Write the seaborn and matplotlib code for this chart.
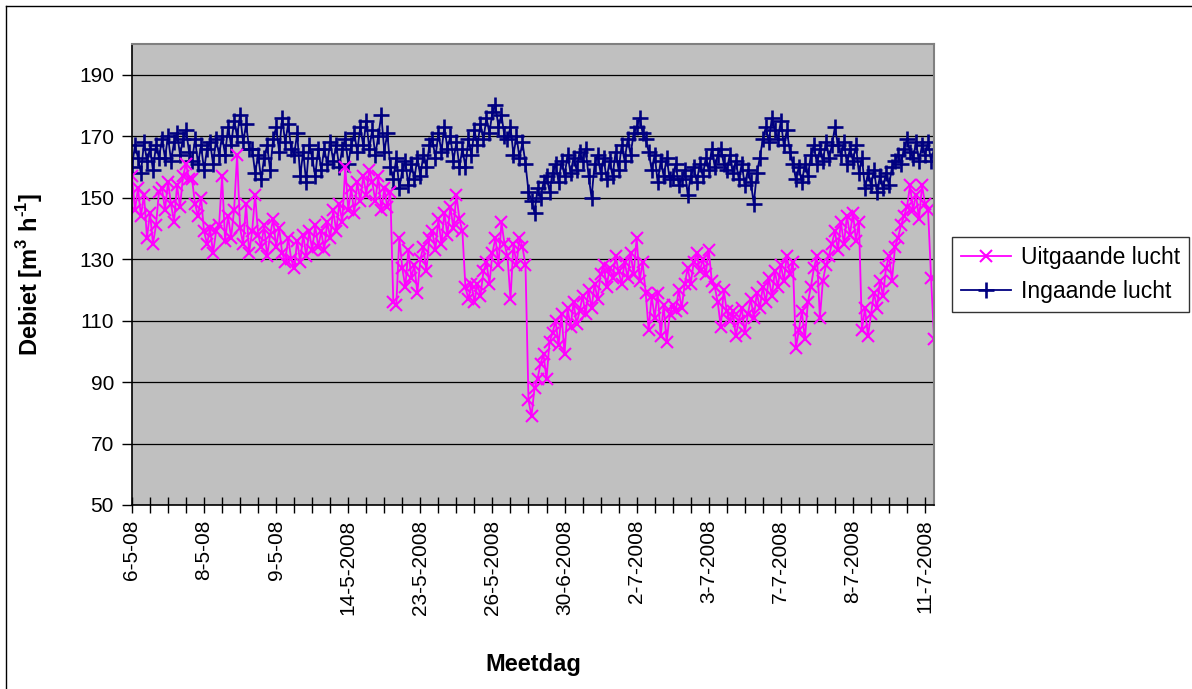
import numpy as np
import pandas as pd
import seaborn as sns
import matplotlib.pyplot as plt
from matplotlib.lines import Line2D

# Ingaande lucht (m3/h), 6 points per minor tick
ingaand = [
    160, 167, 163, 158, 168, 162, 166, 159, 167, 163,
    169, 163, 170, 162, 168, 171, 164, 169, 172, 165,
    162, 169, 161, 167, 159, 166, 168, 161, 169, 164,
    170, 164, 173, 167, 175, 170, 177, 168, 174, 166,
    166, 158, 164, 156, 163, 167, 159, 169, 173, 165,
    176, 168, 174, 166, 164, 171, 157, 165, 155, 167,
    163, 157, 166, 159, 166, 161, 168, 162, 167, 160,
    166, 169, 161, 167, 171, 165, 173, 167, 175, 166,
    172, 164, 170, 177, 165, 171, 160, 156, 163, 153,
    159, 162, 154, 161, 156, 163, 157, 164, 160, 167,
    169, 163, 171, 165, 173, 166, 170, 162, 168, 160,
    166, 160, 169, 164, 172, 167, 174, 169, 176, 171,
    178, 180, 173, 177, 170, 169, 173, 164, 170, 163,
    168, 161, 152, 149, 145, 153, 150, 155, 157, 152,
    158, 161, 155, 162, 157, 164, 158, 163, 159, 165,
    162, 166, 157, 150, 161, 164, 158, 163, 156, 162,
    157, 165, 159, 167, 162, 169, 164, 171, 173, 176,
    171, 169, 165, 159, 164, 155, 162, 157, 163, 156,
    157, 161, 154, 156, 159, 151, 157, 160, 155, 161,
    157, 163, 159, 166, 160, 164, 166, 161, 159, 164,
    158, 162, 156, 161, 154, 159, 155, 148, 158, 163,
    169, 173, 168, 176, 172, 169, 175, 167, 172, 165,
    161, 156, 160, 155, 161, 157, 164, 167, 161, 166,
    162, 168, 163, 167, 173, 167, 164, 168, 161, 166,
    162, 167, 158, 163, 153, 158, 154, 159, 152, 157,
    153, 158, 154, 160, 162, 164, 161, 166, 169, 165,
    163, 168, 162, 167, 164, 168, 162, 166,
]

# Uitgaande lucht (m3/h)
uitgaand = [
    157, 146, 153, 144, 151, 137, 145, 135, 141, 152,
    153, 146, 155, 148, 142, 154, 147, 157, 161, 156,
    156, 148, 144, 150, 139, 135, 140, 132, 139, 141,
    157, 136, 144, 137, 146, 164, 140, 135, 148, 132,
    139, 151, 138, 134, 141, 131, 138, 143, 134, 140,
    132, 129, 137, 130, 127, 136, 129, 138, 131, 139,
    133, 141, 134, 139, 133, 142, 137, 146, 139, 148,
    142, 160, 146, 153, 145, 155, 149, 157, 151, 159,
    155, 149, 157, 146, 153, 147, 152, 116, 115, 137,
    127, 121, 133, 124, 128, 119, 130, 134, 126, 137,
    139, 133, 143, 135, 145, 138, 147, 140, 151, 143,
    139, 121, 117, 122, 116, 122, 118, 126, 129, 122,
    132, 137, 128, 142, 135, 131, 117, 135, 128, 137,
    134, 128, 84, 79, 88, 91, 96, 99, 91, 103,
    106, 110, 102, 112, 99, 114, 108, 116, 109, 113,
    118, 112, 120, 114, 122, 117, 125, 128, 121, 127,
    124, 131, 126, 122, 129, 124, 132, 125, 137, 123,
    129, 119, 107, 118, 111, 119, 105, 115, 103, 112,
    115, 113, 120, 114, 122, 127, 122, 129, 132, 126,
    130, 125, 133, 123, 121, 116, 108, 120, 113, 110,
    113, 105, 110, 114, 106, 112, 117, 111, 119, 114,
    121, 116, 124, 118, 126, 121, 128, 123, 131, 125,
    129, 101, 107, 113, 104, 116, 121, 127, 131, 111,
    123, 128, 131, 135, 139, 133, 142, 135, 144, 138,
    145, 136, 142, 107, 114, 105, 112, 119, 114, 123,
    118, 127, 131, 123, 134, 137, 141, 144, 147, 154,
    146, 151, 143, 154, 148, 146, 124, 104,
]

dag_labels = ['6-5-08', '8-5-08', '9-5-08', '14-5-2008', '23-5-2008', '26-5-2008',
              '30-6-2008', '2-7-2008', '3-7-2008', '7-7-2008', '8-7-2008', '11-7-2008']

df = pd.DataFrame({'meting': np.arange(len(ingaand)),
                   'ingaand': ingaand, 'uitgaand': uitgaand})

plt.rcParams['font.family'] = ['Liberation Sans', 'DejaVu Sans']
plt.rcParams['mathtext.fontset'] = 'custom'
plt.rcParams['mathtext.rm'] = 'Liberation Sans:bold'
plt.rcParams['mathtext.bf'] = 'Liberation Sans:bold'

fig = plt.figure(figsize=(11.92, 6.89), dpi=100)
ax = fig.add_axes([0.1107, 0.2671, 0.6729, 0.669])
ax.set_facecolor('#C0C0C0')

sns.lineplot(data=df, x='meting', y='ingaand', ax=ax, color='#000080',
             marker='+', markersize=11, markeredgewidth=1.9, linewidth=1.3,
             markeredgecolor='#000080')
sns.lineplot(data=df, x='meting', y='uitgaand', ax=ax, color='#FF00FF',
             marker='x', markersize=9, markeredgewidth=1.5, linewidth=1.3,
             markeredgecolor='#FF00FF')

ax.set_ylim(50, 200)
ax.set_xlim(0, len(ingaand) - 1)
ax.set_yticks(range(50, 191, 20))
ax.set_xticks(np.arange(len(dag_labels)) * 24)
ax.set_xticklabels(dag_labels, rotation=90, va='top', ha='center')
ax.set_xticks(np.arange(0, 265, 6), minor=True)

ax.yaxis.grid(True, color='black', linewidth=0.9)
ax.xaxis.grid(False)
ax.set_axisbelow(True)

ax.tick_params(axis='x', which='both', direction='inout', length=11, width=1, pad=5,
               labelsize=15)
ax.tick_params(axis='y', direction='out', length=7, width=1, pad=6, labelsize=15)

for s in ['left', 'bottom']:
    ax.spines[s].set_color('black')
    ax.spines[s].set_linewidth(1.2)
for s in ['top', 'right']:
    ax.spines[s].set_color('#808080')
    ax.spines[s].set_linewidth(1.5)

ax.set_xlabel('Meetdag', fontsize=17, fontweight='bold')
ax.set_ylabel(r'Debiet [m$^{3}$ h$^{\text{-1}}$]', fontsize=17, fontweight='bold')
ax.xaxis.set_label_coords(0.5, -0.321)
ax.yaxis.set_label_coords(-0.1085, 0.5)

handles = [Line2D([], [], color='#FF00FF', marker='x', markersize=9, markeredgewidth=1.5, lw=1.3),
           Line2D([], [], color='#000080', marker='+', markersize=11, markeredgewidth=1.9, lw=1.3)]
leg = fig.legend(handles, ['Uitgaande lucht', 'Ingaande lucht'], loc='center',
                 bbox_to_anchor=(0.898, 0.6016), fontsize=16.5, frameon=True,
                 fancybox=False, edgecolor='black', handlelength=2.2,
                 borderpad=0.4, labelspacing=0.5, handletextpad=0.4)
leg.get_frame().set_linewidth(1.0)

# outer chart border (left and top visible)
fig.add_artist(Line2D([0.005, 0.005], [0.0, 0.991], color='black', lw=1.0))
fig.add_artist(Line2D([0.005, 1.0], [0.991, 0.991], color='black', lw=1.0))

fig.savefig('out.png', dpi=100)
